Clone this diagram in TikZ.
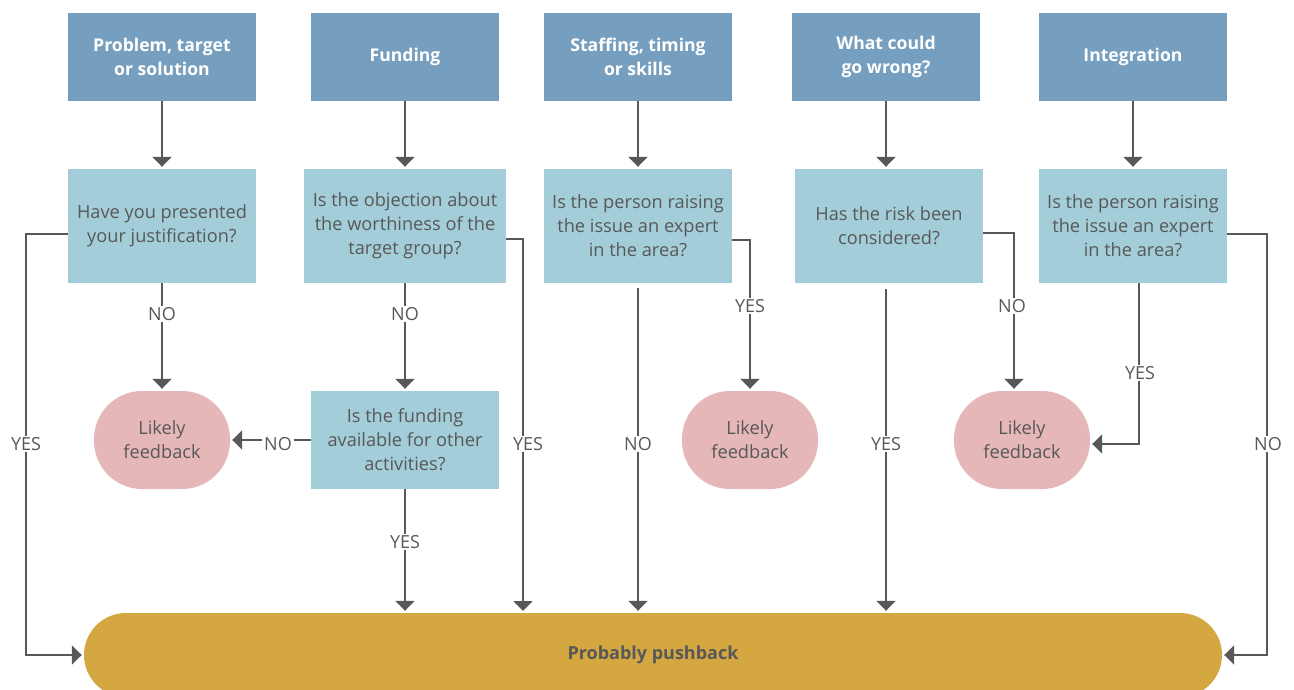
\documentclass[tikz,border=0pt]{standalone}
\usepackage{fontspec}
\setmainfont{Open Sans}
\usetikzlibrary{arrows.meta}
\definecolor{hdr}{HTML}{769FBF}
\definecolor{qbox}{HTML}{A3CDD9}
\definecolor{fbk}{HTML}{E6B7B8}
\definecolor{barc}{HTML}{D4A740}
\definecolor{ink}{HTML}{585858}
\tikzset{
  hdrbox/.style={fill=hdr, minimum width=188pt, minimum height=88pt, align=center, text=white, font=\fontsize{17.6}{24}\selectfont\bfseries, inner sep=0pt},
  qstbox/.style={fill=qbox, minimum width=188pt, minimum height=114pt, align=center, text=ink, font=\fontsize{18.2}{24}\selectfont, inner sep=0pt},
  fbkbox/.style={fill=fbk, minimum width=136pt, minimum height=98pt, rounded corners=48pt, align=center, text=ink, font=\fontsize{18.2}{24}\selectfont, inner sep=0pt},
  conn/.style={draw=ink, line width=2pt},
  arr/.style={conn, -{Triangle[width=19pt,length=10pt]}, shorten >=2pt},
  lbl/.style={fill=white, text=ink, font=\fontsize{18}{20}\selectfont, inner sep=1.5pt}
}
\begin{document}
\begin{tikzpicture}[x=1pt,y=-1pt]
\useasboundingbox (0,0) rectangle (1294,690);
% headers
\node[hdrbox] (h1) at (162,57) {Problem, target\\or solution};
\node[hdrbox] (h2) at (405,57) {Funding};
\node[hdrbox] (h3) at (638,57) {Staffing, timing\\or skills};
\node[hdrbox] (h4) at (886,57) {What could\\go wrong?};
\node[hdrbox] (h5) at (1133,57) {Integration};
% questions
\node[qstbox] (q1) at (162,226) {Have you presented\\your justification?};
\node[qstbox, minimum width=202pt] (q2) at (405,226) {Is the objection about\\the worthiness of the\\target group?};
\node[qstbox] (q3) at (638,226) {Is the person raising\\the issue an expert\\in the area?};
\node[qstbox] (q4) at (889,226) {Has the risk been\\considered?};
\node[qstbox] (q5) at (1133,226) {Is the person raising\\the issue an expert\\in the area?};
% second level
\node[fbkbox] (f1) at (162,440) {Likely\\feedback};
\node[qstbox, minimum height=98pt] (fa) at (405,440) {Is the funding\\available for other\\activities?};
\node[fbkbox] (f2) at (750,440) {Likely\\feedback};
\node[fbkbox] (f3) at (1022,440) {Likely\\feedback};
% bar
\node[fill=barc, minimum width=1138pt, minimum height=84pt, rounded corners=42pt, text=ink, font=\fontsize{18}{20}\selectfont\bfseries, inner sep=0pt] (bar) at (653,655) {Probably pushback};
% free-end coordinates
\coordinate (l1) at (26,655);
\coordinate (b2) at (523,613);
\coordinate (r5) at (1267,655);
% header arrows
\foreach \i in {1,...,5} { \draw[arr] (h\i) -- (h\i |- q\i.north); }
% column 1
\draw[arr] ([yshift=-8pt]q1.west) -| (l1) -- (bar.west);
\node[lbl] (y1) at (26,444) {YES};
\draw[arr] (q1.south) -- (f1.north);
\node[lbl] (n1) at (162,314) {NO};
% column 2
\draw[arr] (q2.south) -- (fa.north);
\node[lbl] (n2) at (405,314) {NO};
\draw[arr] (fa.west) -- (f1.east);
\node[lbl, inner xsep=2pt] (n2b) at (278,444) {NO};
\draw[arr] (fa.south) -- (fa.south |- bar.north);
\node[lbl] (y2) at (405,542) {YES};
\draw[arr] ([yshift=-13pt]q2.east) -| (b2);
\node[lbl] (y2b) at (528,444) {YES};
% column 3
\draw[arr] ([yshift=-5pt]q3.south) -- (q3.south |- bar.north);
\node[lbl] (n3) at (638,444) {NO};
\draw[arr] ([yshift=-14pt]q3.east) -| (f2.north);
\node[lbl] (y3) at (750,306) {YES};
% column 4
\draw[arr] ([xshift=-3pt,yshift=-6pt]q4.south) -- ([xshift=-3pt]q4.south |- bar.north);
\node[lbl] (y4) at (886,444) {YES};
\draw[arr] ([yshift=-7pt]q4.east) -| ([xshift=-8pt]f3.north);
\node[lbl] (n4) at (1012,306) {NO};
% column 5
\draw[arr] ([xshift=6pt]q5.south) |- ([yshift=-4pt]f3.east);
\node[lbl] (y5) at (1140,373) {YES};
\draw[arr] ([yshift=-8pt]q5.east) -| (r5) -- (bar.east);
\node[lbl] (n5) at (1268,444) {NO};
\end{tikzpicture}
\end{document}
